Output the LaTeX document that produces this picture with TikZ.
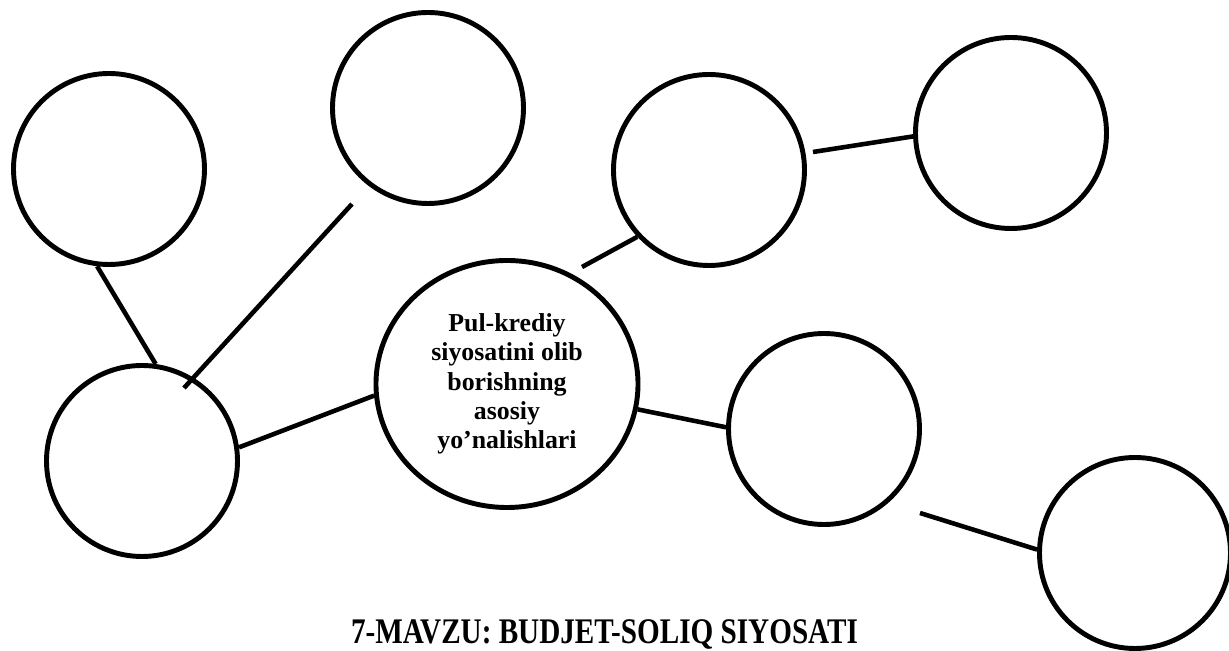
\documentclass[tikz,border=0pt]{standalone}
\usepackage{fontspec}
\setmainfont{Liberation Serif}
\newfontfamily\narrowserif[FakeStretch=0.81]{Liberation Serif}
\usepackage{tikz}
\usetikzlibrary{shapes.geometric}

\begin{document}
\begin{tikzpicture}[bubble/.style={circle, draw, line width=2.8pt, minimum size=3.82cm, inner sep=0pt},
  link/.style={line width=2.6pt}]
\useasboundingbox (0,0) rectangle (24.58,13.02);
\node[bubble] (c1) at (2.18,9.64) {};
\node[bubble] (c2) at (8.56,10.86) {};
\node[bubble] (c3) at (14.18,9.62) {};
\node[bubble] (c4) at (20.22,10.36) {};
\node[bubble] (c6) at (2.84,3.80) {};
\node[bubble] (c7) at (16.48,4.44) {};
\node[bubble] (c8) at (22.70,1.96) {};
\node[ellipse, draw, line width=2.8pt, minimum width=5.24cm, minimum height=4.94cm, align=center,
  font=\bfseries\fontsize{14.7}{16.6}\selectfont] (core) at (10.14,5.34)
  {Pul-krediy\\siyosatini olib\\borishning\\asosiy\\yo’nalishlari};
\node[anchor=base, font=\narrowserif\bfseries\fontsize{20.5}{22}\selectfont] (title) at (12.09,0.14)
  {7-MAVZU: BUDJET-SOLIQ SIYOSATI};
\coordinate (c2tail) at (7.04,8.94);
\coordinate (c6tip) at (3.68,5.26);
\coordinate (coretail) at (11.64,7.68);
\coordinate (c3tail) at (16.26,9.98);
\coordinate (c7tail) at (18.40,2.76);
\draw[link] (c1.-97) -- (c6.82);
\draw[link] (c2tail) -- (c6tip);
\draw[link] (c6.8) -- (core.185);
\draw[link] (coretail) -- (c3.223);
\draw[link] (c3tail) -- (c4.182);
\draw[link] (core.-11) -- (c7.179);
\draw[link] (c7tail) -- (c8.178);
\end{tikzpicture}
\end{document}
